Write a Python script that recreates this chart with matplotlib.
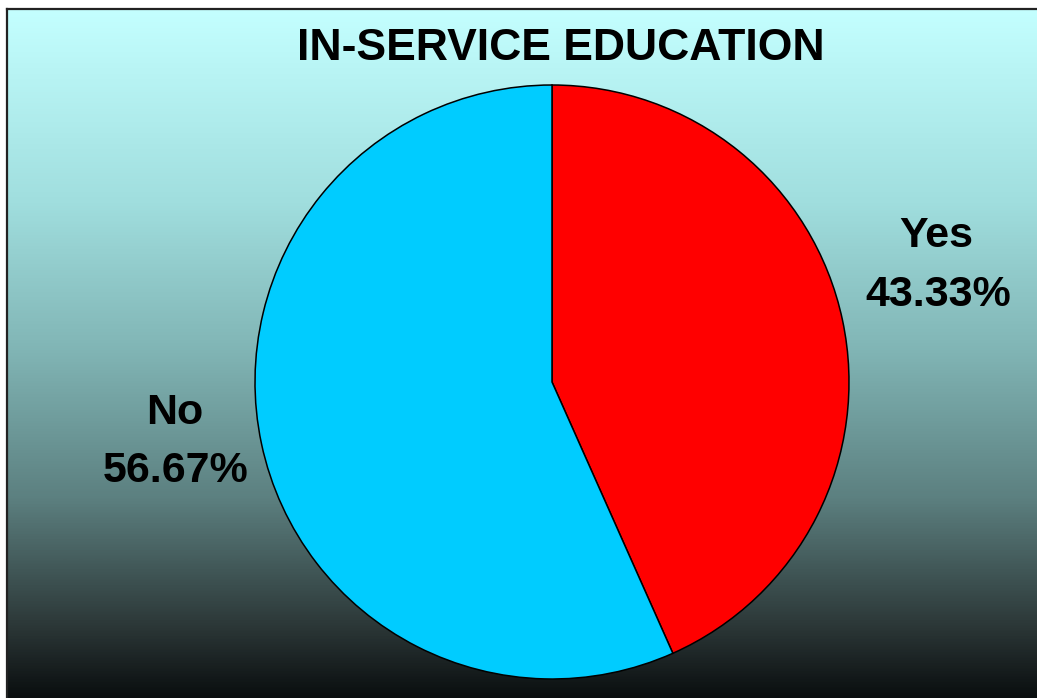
import numpy as np
import matplotlib.pyplot as plt
from matplotlib.colors import LinearSegmentedColormap

# Données du graphique
categories = ['Yes', 'No']
valeurs = [43.33, 56.67]
couleurs = ['#FF0000', '#00CCFF']
titre = 'IN-SERVICE EDUCATION'

plt.rcParams['font.family'] = ['Liberation Sans', 'DejaVu Sans']

fig = plt.figure(figsize=(10.37, 6.98), dpi=100)
fig.patch.set_facecolor('white')

# Fond en dégradé (cyan clair en haut, presque noir en bas)
ax_bg = fig.add_axes([7 / 1037, 0, 1 - 7 / 1037, (698 - 9) / 698])
stops = [
    (0.00, (196 / 255, 255 / 255, 255 / 255)),
    (0.28, (160 / 255, 222 / 255, 222 / 255)),
    (0.50, (128 / 255, 180 / 255, 180 / 255)),
    (0.71, (92 / 255, 128 / 255, 128 / 255)),
    (0.89, (46 / 255, 58 / 255, 58 / 255)),
    (1.00, (10 / 255, 14 / 255, 15 / 255)),
]
cmap = LinearSegmentedColormap.from_list('fond', stops)
grad = np.linspace(0, 1, 512).reshape(-1, 1)
ax_bg.imshow(grad, aspect='auto', cmap=cmap, extent=[0, 1, 0, 1], origin='upper')
ax_bg.set_xlim(0, 1)
ax_bg.set_ylim(0, 1)
ax_bg.set_xticks([])
ax_bg.set_yticks([])
for side in ['right', 'bottom']:
    ax_bg.spines[side].set_visible(False)
for side in ['left', 'top']:
    ax_bg.spines[side].set_linewidth(1.6)
    ax_bg.spines[side].set_color('#222222')

# Camembert
cx, cy, r = 552, 382, 297
ax = fig.add_axes([(cx - r) / 1037, 1 - (cy + r) / 698, 2 * r / 1037, 2 * r / 698])
ax.pie(valeurs, colors=couleurs, startangle=90, counterclock=False,
       wedgeprops=dict(edgecolor='black', linewidth=1.1))
ax.set_xlim(-1, 1)
ax.set_ylim(-1, 1)
ax.set_aspect('equal')
ax.axis('off')

# Titre et étiquettes
fig.text(561 / 1037, 1 - 48 / 698, titre, ha='center', va='center',
         fontsize=32, fontweight='bold', color='black')
fig.text(936 / 1037, 1 - 236 / 698, categories[0], ha='center', va='center',
         fontsize=31, fontweight='bold')
fig.text(938 / 1037, 1 - 295 / 698, f'{valeurs[0]:.2f}%', ha='center', va='center',
         fontsize=31, fontweight='bold')
fig.text(175 / 1037, 1 - 413 / 698, categories[1], ha='center', va='center',
         fontsize=31, fontweight='bold')
fig.text(176 / 1037, 1 - 471 / 698, f'{valeurs[1]:.2f}%', ha='center', va='center',
         fontsize=31, fontweight='bold')

fig.savefig('out.png', dpi=100)
